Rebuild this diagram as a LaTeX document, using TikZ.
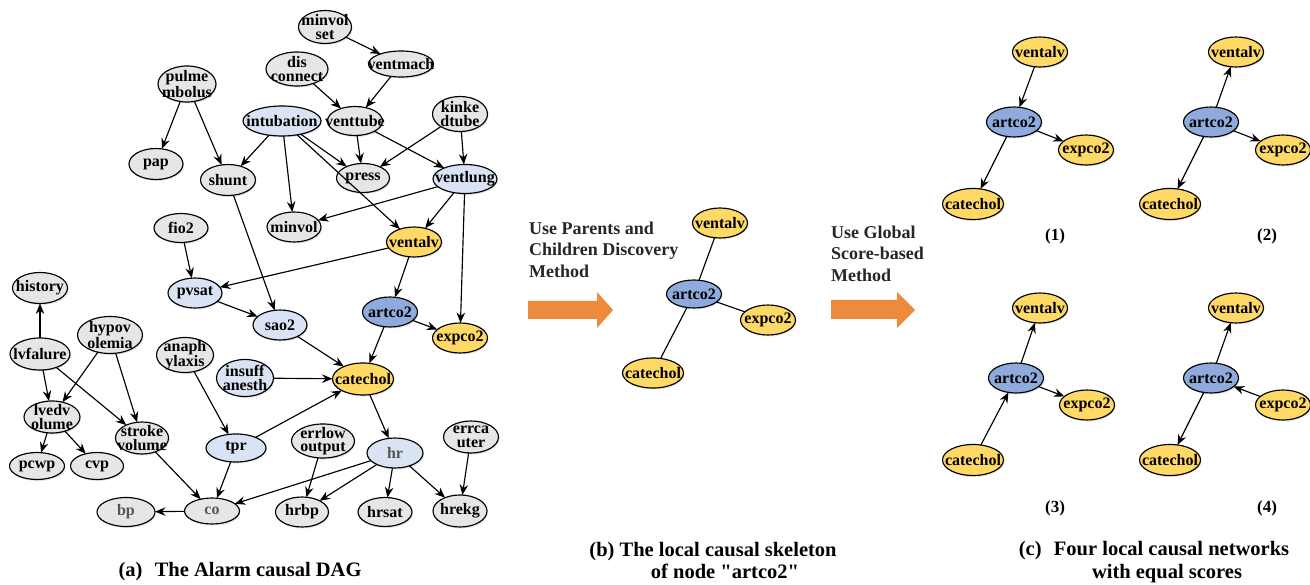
\documentclass[tikz,border=0pt]{standalone}
\usepackage{fontspec}
\setmainfont{Liberation Serif}[Ligatures=TeXOff]
\usetikzlibrary{shapes.geometric,arrows.meta,shadows}
\definecolor{gnode}{HTML}{E6E6E6}
\definecolor{lblue}{HTML}{DAE3F3}
\definecolor{dblue}{HTML}{8FAADC}
\definecolor{yell}{HTML}{FFD966}
\definecolor{orng}{HTML}{EE8A3C}
\definecolor{txtgray}{HTML}{555555}
\newcommand\nf{\bfseries\fontsize{16}{13.5}\selectfont}
\begin{document}
\begin{tikzpicture}[x=1pt,y=-1pt,
 nd/.style={ellipse, draw=black, line width=1.15pt, inner sep=0pt, outer sep=0pt, minimum width=54pt, minimum height=30pt, drop shadow={opacity=0.22,shadow xshift=1pt,shadow yshift=-1.5pt}},
 gn/.style={nd,fill=gnode}, lb/.style={nd,fill=lblue}, bn/.style={nd,fill=dblue}, yn/.style={nd,fill=yell},
 lab/.style={font=\nf, align=center, inner sep=0pt},
 ar/.style={-{Stealth[length=10.5pt,width=8.5pt,inset=3.5pt]}, line width=1.15pt},
 ln/.style={line width=1.15pt},
 mtext/.style={font=\bfseries\fontsize{18}{21.7}\selectfont, align=left, inner sep=0pt, text=black!85},
 captxt/.style={font=\bfseries\fontsize{20.5}{23}\selectfont, inner sep=0pt},
 numtxt/.style={font=\bfseries\fontsize{17}{20}\selectfont, inner sep=0pt},
]
\useasboundingbox (0,0) rectangle (1310,585);
% ---------------- (a) Alarm DAG ----------------
\node[gn,minimum width=53pt,minimum height=33pt,label={[lab]center:minvol\\set}] (minvolset) at (325,27) {};
\node[gn,minimum width=65pt,minimum height=26pt,label={[lab]center:ventmach}] (ventmach) at (401,64) {};
\node[gn,minimum width=62pt,minimum height=34pt,label={[lab]center:dis\\connect}] (disconnect) at (297,69) {};
\node[gn,minimum width=58pt,minimum height=36pt,label={[lab]center:pulme\\mbolus}] (pulmembolus) at (187,84) {};
\node[lb,minimum width=78pt,minimum height=30pt,label={[lab]center:intubation}] (intubation) at (282,121) {};
\node[gn,minimum width=55pt,minimum height=29pt,label={[lab]center:venttube}] (venttube) at (355,121) {};
\node[gn,minimum width=55pt,minimum height=35pt,label={[lab]center:kinke\\dtube}] (kinkedtube) at (460,114) {};
\node[gn,minimum width=54pt,minimum height=31pt,label={[lab]center:pap}] (pap) at (156,164) {};
\node[gn,minimum width=55pt,minimum height=31pt,label={[lab]center:shunt}] (shunt) at (228,180) {};
\node[gn,minimum width=53pt,minimum height=29pt,label={[lab]center:press}] (press) at (363,178) {};
\node[lb,minimum width=64pt,minimum height=29pt,label={[lab]center:ventlung}] (ventlung) at (465,179) {};
\node[gn,minimum width=54pt,minimum height=29pt,label={[lab]center:fio2}] (fio2) at (181,228) {};
\node[gn,minimum width=54pt,minimum height=30pt,label={[lab]center:minvol}] (minvol) at (294,227) {};
\node[yn,minimum width=55pt,minimum height=30pt,label={[lab]center:ventalv}] (ventalv) at (414,242) {};
\node[gn,minimum width=55pt,minimum height=31pt,label={[lab]center:history}] (history) at (40,288) {};
\node[lb,minimum width=54pt,minimum height=30pt,label={[lab]center:pvsat}] (pvsat) at (195,293) {};
\node[gn,minimum width=65pt,minimum height=37pt,label={[lab]center:hypov\\olemia}] (hypovolemia) at (110,335) {};
\node[lb,minimum width=54pt,minimum height=30pt,label={[lab]center:sao2}] (sao2) at (280,325) {};
\node[bn,minimum width=55pt,minimum height=30pt,label={[lab]center:artco2}] (artco2) at (390,312) {};
\node[yn,minimum width=55pt,minimum height=30pt,label={[lab]center:expco2}] (expco2) at (460,338) {};
\node[gn,minimum width=60pt,minimum height=32pt,label={[lab]center:lvfalure}] (lvfalure) at (40,354) {};
\node[gn,minimum width=57pt,minimum height=35pt,label={[lab]center:anaph\\ylaxis}] (anaphylaxis) at (185,355) {};
\node[lb,minimum width=57pt,minimum height=37pt,label={[lab]center:insuff\\anesth}] (insuffanesth) at (245,378) {};
\node[yn,minimum width=61pt,minimum height=32pt,label={[lab]center:catechol}] (catechol) at (363,379) {};
\node[gn,minimum width=56pt,minimum height=32pt,label={[lab]center:lvedv\\olume}] (lvedvolume) at (52,417) {};
\node[gn,minimum width=53pt,minimum height=32pt,label={[lab]center:stroke\\volume}] (strokevolume) at (142,438) {};
\node[lb,minimum width=60pt,minimum height=28pt,label={[lab]center:tpr}] (tpr) at (236,448) {};
\node[gn,minimum width=63pt,minimum height=34pt,label={[lab]center:errlow\\output}] (errlowoutput) at (323,441) {};
\node[lb,minimum width=56pt,minimum height=30pt,label={[lab,text=txtgray]center:hr}] (hr) at (395,453) {};
\node[gn,minimum width=55pt,minimum height=32pt,label={[lab]center:errca\\uter}] (errcauter) at (471,437) {};
\node[gn,minimum width=55pt,minimum height=27pt,label={[lab]center:pcwp}] (pcwp) at (37,466) {};
\node[gn,minimum width=53pt,minimum height=27pt,label={[lab]center:cvp}] (cvp) at (97,466) {};
\node[gn,minimum width=58pt,minimum height=29pt,label={[lab,text=txtgray]center:bp}] (bp) at (126,512) {};
\node[gn,minimum width=55pt,minimum height=26pt,label={[lab,text=txtgray]center:co}] (co) at (212,511) {};
\node[gn,minimum width=53pt,minimum height=30pt,label={[lab]center:hrbp}] (hrbp) at (302,512) {};
\node[gn,minimum width=54pt,minimum height=29pt,label={[lab]center:hrsat}] (hrsat) at (385,512) {};
\node[gn,minimum width=54pt,minimum height=32pt,label={[lab]center:hrekg}] (hrekg) at (460,511) {};

\draw[ar] (minvolset) -- (ventmach);
\draw[ar] (ventmach) -- (venttube);
\draw[ar] (disconnect) -- (venttube);
\draw[ar] (pulmembolus) -- (pap);
\draw[ar] (pulmembolus) -- (shunt);
\draw[ar] (intubation) -- (shunt);
\draw[ar] (intubation) -- (press);
\draw[ar] (intubation) -- (minvol);
\draw[ar] (intubation) -- (ventalv);
\draw[ar] (venttube) -- (press);
\draw[ar] (venttube) -- (ventlung);
\draw[ar] (kinkedtube) -- (press);
\draw[ar] (kinkedtube) -- (ventlung);
\draw[ar] (ventlung) -- (minvol);
\draw[ar] (ventlung) -- (ventalv);
\draw[ar] (ventlung) -- (expco2);
\draw[ar] (shunt) -- (sao2);
\draw[ar] (fio2) -- (pvsat);
\draw[ar] (ventalv) -- (pvsat);
\draw[ar] (pvsat) -- (sao2);
\draw[ar] (ventalv) -- (artco2);
\draw[ar] (artco2) -- (expco2);
\draw[ar] (artco2) -- (catechol);
\draw[ar] (sao2) -- (catechol);
\draw[ar] (insuffanesth) -- (catechol);
\draw[ar] (tpr) -- (catechol);
\draw[ar] (anaphylaxis) -- (tpr);
\draw[ar] (catechol) -- (hr);
\draw[ar] (lvfalure) -- (history);
\draw[ar] (lvfalure) -- (lvedvolume);
\draw[ar] (lvfalure) -- (strokevolume);
\draw[ar] (hypovolemia) -- (lvedvolume);
\draw[ar] (hypovolemia) -- (strokevolume);
\draw[ar] (lvedvolume) -- (pcwp);
\draw[ar] (lvedvolume) -- (cvp);
\draw[ar] (strokevolume) -- (co);
\draw[ar] (tpr) -- (co);
\draw[ar] (hr) -- (co);
\draw[ar] (co) -- (bp);
\draw[ar] (errlowoutput) -- (hrbp);
\draw[ar] (hr) -- (hrbp);
\draw[ar] (hr) -- (hrsat);
\draw[ar] (hr) -- (hrekg);
\draw[ar] (errcauter) -- (hrekg);

% ---------------- (b) skeleton ----------------
\node[mtext,anchor=north west] (mt1) at (529,221.5) {Use Parents and\\Children Discovery\\Method};
\fill[orng] (528,301) -- (597,301) -- (597,292) -- (613,310) -- (597,328) -- (597,319) -- (528,319) -- cycle;
\node[yn,minimum width=55pt,minimum height=30pt,label={[lab]center:ventalv}] (bv) at (720,223) {};
\node[bn,minimum width=55pt,minimum height=28pt,label={[lab]center:artco2}] (ba) at (694,294) {};
\node[yn,minimum width=55pt,minimum height=30pt,label={[lab]center:expco2}] (be) at (768,320) {};
\node[yn,minimum width=61pt,minimum height=30pt,label={[lab]center:catechol}] (bc) at (653,373) {};
\draw[ln] (ba) -- (bv);
\draw[ln] (ba) -- (be);
\draw[ln] (ba) -- (bc);

% ---------------- (c) four networks ----------------
\node[mtext,anchor=north west] (mt2) at (831,225.5) {Use Global\\Score-based\\Method};
\fill[orng] (831,300) -- (897,300) -- (897,292) -- (915,310) -- (897,328) -- (897,319) -- (831,319) -- cycle;
% (1)
\node[yn,minimum width=55pt,label={[lab]center:ventalv}] (v1) at (1040,52) {};
\node[bn,minimum width=55pt,label={[lab]center:artco2}] (a1) at (1014,122) {};
\node[yn,minimum width=55pt,label={[lab]center:expco2}] (e1) at (1086,150) {};
\node[yn,minimum width=61pt,minimum height=31pt,label={[lab]center:catechol}] (c1) at (973,204) {};
\draw[ar] (v1) -- (a1);
\draw[ar] (a1) -- (e1);
\draw[ar] (a1) -- (c1);
\node[numtxt] (n1) at (1055,236) {(1)};
% (2)
\node[yn,minimum width=55pt,label={[lab]center:ventalv}] (v2) at (1236,52) {};
\node[bn,minimum width=55pt,label={[lab]center:artco2}] (a2) at (1211,122) {};
\node[yn,minimum width=55pt,label={[lab]center:expco2}] (e2) at (1283,150) {};
\node[yn,minimum width=61pt,minimum height=31pt,label={[lab]center:catechol}] (c2) at (1170,204) {};
\draw[ar] (a2) -- (v2);
\draw[ar] (a2) -- (e2);
\draw[ar] (a2) -- (c2);
\node[numtxt] (n2) at (1267,236) {(2)};
% (3)
\node[yn,minimum width=55pt,label={[lab]center:ventalv}] (v3) at (1040,308) {};
\node[bn,minimum width=55pt,label={[lab]center:artco2}] (a3) at (1016,378) {};
\node[yn,minimum width=55pt,label={[lab]center:expco2}] (e3) at (1087,405) {};
\node[yn,minimum width=61pt,minimum height=31pt,label={[lab]center:catechol}] (c3) at (973,460) {};
\draw[ar] (a3) -- (v3);
\draw[ar] (a3) -- (e3);
\draw[ar] (c3) -- (a3);
\node[numtxt] (n3) at (1055,508) {(3)};
% (4)
\node[yn,minimum width=55pt,label={[lab]center:ventalv}] (v4) at (1236,308) {};
\node[bn,minimum width=55pt,label={[lab]center:artco2}] (a4) at (1211,378) {};
\node[yn,minimum width=55pt,label={[lab]center:expco2}] (e4) at (1283,405) {};
\node[yn,minimum width=61pt,minimum height=31pt,label={[lab]center:catechol}] (c4) at (1170,460) {};
\draw[ar] (a4) -- (v4);
\draw[ar] (e4) -- (a4);
\draw[ar] (a4) -- (c4);
\node[numtxt] (n4) at (1267,508) {(4)};

% ---------------- captions ----------------
\node[captxt,anchor=base] (capa) at (240,576) {(a)\hspace{0.6em}The Alarm causal DAG};
\node[captxt,anchor=base] (capb1) at (713,556) {(b) The local causal skeleton};
\node[captxt,anchor=base] (capb2) at (725,578) {of node "artco2"};
\node[captxt,anchor=base] (capc1) at (1154,555) {(c)\hspace{0.6em}Four local causal networks};
\node[captxt,anchor=base] (capc2) at (1167,578) {with equal scores};
\end{tikzpicture}
\end{document}
